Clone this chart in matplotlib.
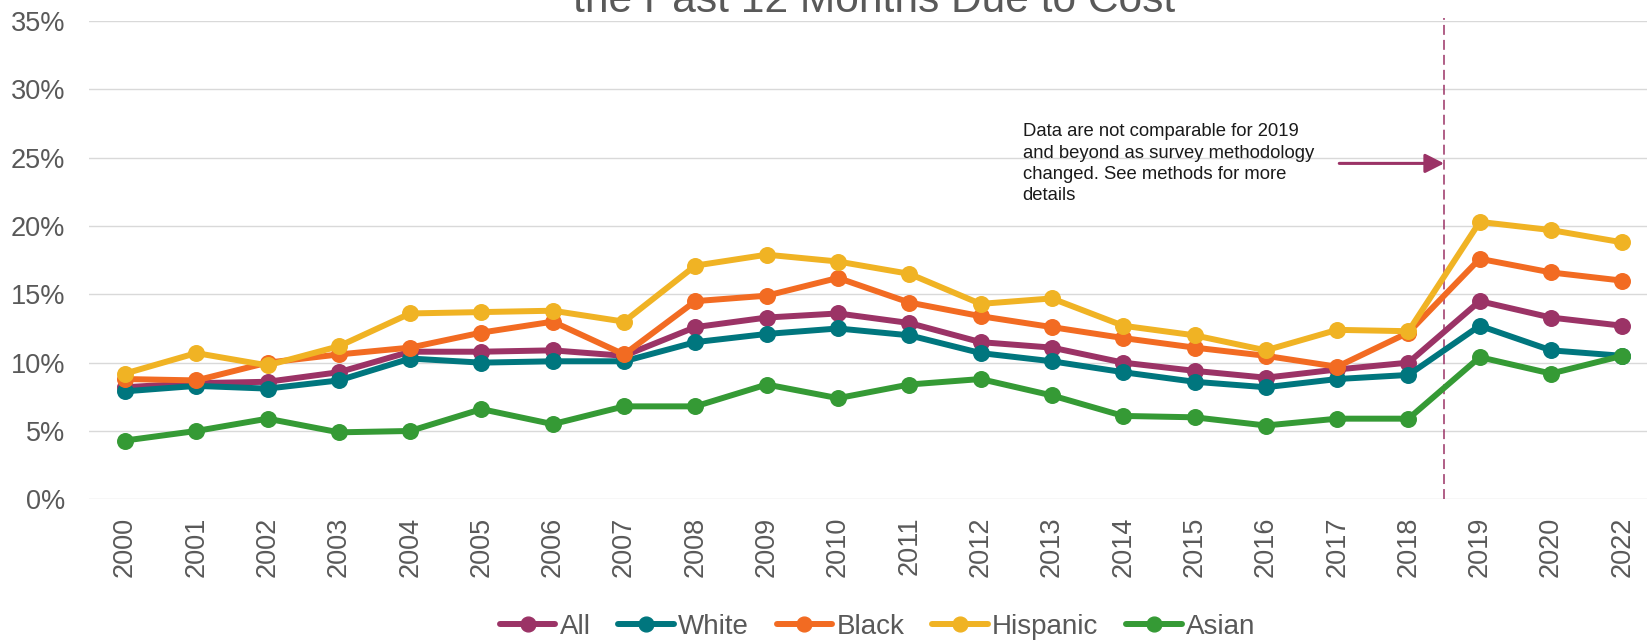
import matplotlib
matplotlib.use("Agg")
import matplotlib.pyplot as plt
import numpy as np

years = ["2000", "2001", "2002", "2003", "2004", "2005", "2006", "2007", "2008", "2009", "2010",
         "2011", "2012", "2013", "2014", "2015", "2016", "2017", "2018", "2019", "2020", "2022"]

all_vals = [8.2, 8.5, 8.6, 9.3, 10.8, 10.8, 10.9, 10.5, 12.6, 13.3, 13.6,
            12.9, 11.5, 11.1, 10.0, 9.4, 8.9, 9.5, 10.0, 14.5, 13.3, 12.7]
white_vals = [7.9, 8.3, 8.1, 8.7, 10.3, 10.0, 10.1, 10.1, 11.5, 12.1, 12.5,
              12.0, 10.7, 10.1, 9.3, 8.6, 8.2, 8.8, 9.1, 12.7, 10.9, 10.5]
black_vals = [8.8, 8.7, 10.0, 10.6, 11.1, 12.2, 13.0, 10.6, 14.5, 14.9, 16.2,
              14.4, 13.4, 12.6, 11.8, 11.1, 10.5, 9.7, 12.2, 17.6, 16.6, 16.0]
hispanic_vals = [9.2, 10.7, 9.8, 11.2, 13.6, 13.7, 13.8, 13.0, 17.1, 17.9, 17.4,
                 16.5, 14.3, 14.7, 12.7, 12.0, 10.9, 12.4, 12.3, 20.3, 19.7, 18.8]
asian_vals = [4.3, 5.0, 5.9, 4.9, 5.0, 6.6, 5.5, 6.8, 6.8, 8.4, 7.4,
              8.4, 8.8, 7.6, 6.1, 6.0, 5.4, 5.9, 5.9, 10.4, 9.2, 10.5]

series_names = ["All", "White", "Black", "Hispanic", "Asian"]
series_values = [all_vals, white_vals, black_vals, hispanic_vals, asian_vals]
series_colors = ["#9B3366", "#00767E", "#F26B22", "#F0B324", "#359A35"]

y_ticks = [0, 5, 10, 15, 20, 25, 30, 35]
y_tick_labels = ["0%", "5%", "10%", "15%", "20%", "25%", "30%", "35%"]

title_text = "the Past 12 Months Due to Cost"
note_text = ("Data are not comparable for 2019\nand beyond as survey methodology\n"
             "changed. See methods for more\ndetails")

plt.rcParams["font.family"] = ["Liberation Sans", "DejaVu Sans"]

W, H = 1647, 641
fig = plt.figure(figsize=(W / 100, H / 100), dpi=100)
# axes in pixel geometry
left_px, right_px = 89.3, 1658.0
bottom_px, top_px = 499.3, 21.0
ax = fig.add_axes([left_px / W, 1 - bottom_px / H, (right_px - left_px) / W, (bottom_px - top_px) / H])

x = np.arange(len(years))
for name, vals, col in zip(series_names, series_values, series_colors):
    ax.plot(x, vals, color=col, lw=4.3, marker="o", markersize=11.2,
            markerfacecolor=col, markeredgecolor=col, label=name, solid_capstyle="round",
            zorder=3)

ax.set_xlim(-0.5, len(years) - 0.5)
ax.set_ylim(0, 35)
ax.set_yticks(y_ticks)
ax.set_yticklabels(y_tick_labels)
ax.set_xticks(x)
ax.set_xticklabels(years, rotation=90)
ax.tick_params(axis="x", length=0, pad=12.5, labelsize=19.5, labelcolor="#595959")
ax.tick_params(axis="y", length=0, pad=17.5, labelsize=19.5, labelcolor="#595959")
for lab in ax.get_xticklabels():
    lab.set_va("top")
ax.yaxis.grid(True, color="#D9D9D9", lw=1.0)
ax.set_axisbelow(True)
for s in ax.spines.values():
    s.set_visible(False)

# methodology change marker between 2018 and 2019
xb = (years.index("2018") + years.index("2019")) / 2
ax.plot([xb, xb], [0, 35.2], color="#9B3366", lw=1.1, dashes=(6.5, 3.3), clip_on=False, zorder=2)
ax.annotate("", xy=(xb, 24.58), xytext=(17.03, 24.58),
            arrowprops=dict(arrowstyle="-|>,head_length=0.57,head_width=0.29", mutation_scale=20,
                            color="#9B3366", lw=2.2, shrinkA=0, shrinkB=0))
ax.text(12.59, 27.51, note_text, fontsize=13.3, color="#1A1A1A", ha="left", va="top",
        linespacing=1.33)

fig.text((left_px + right_px) / 2 / W, 1 - 11.7 / H, title_text, fontsize=30.6,
         color="#595959", ha="center", va="baseline")

leg = fig.legend(loc="center", bbox_to_anchor=(877.5 / W, 1 - 626.7 / H), ncol=5, frameon=False,
                 fontsize=20, handlelength=2.0, handletextpad=0.15, columnspacing=1.0,
                 markerscale=0.95)
for t in leg.get_texts():
    t.set_color("#595959")

fig.savefig("out.png", dpi=100)
